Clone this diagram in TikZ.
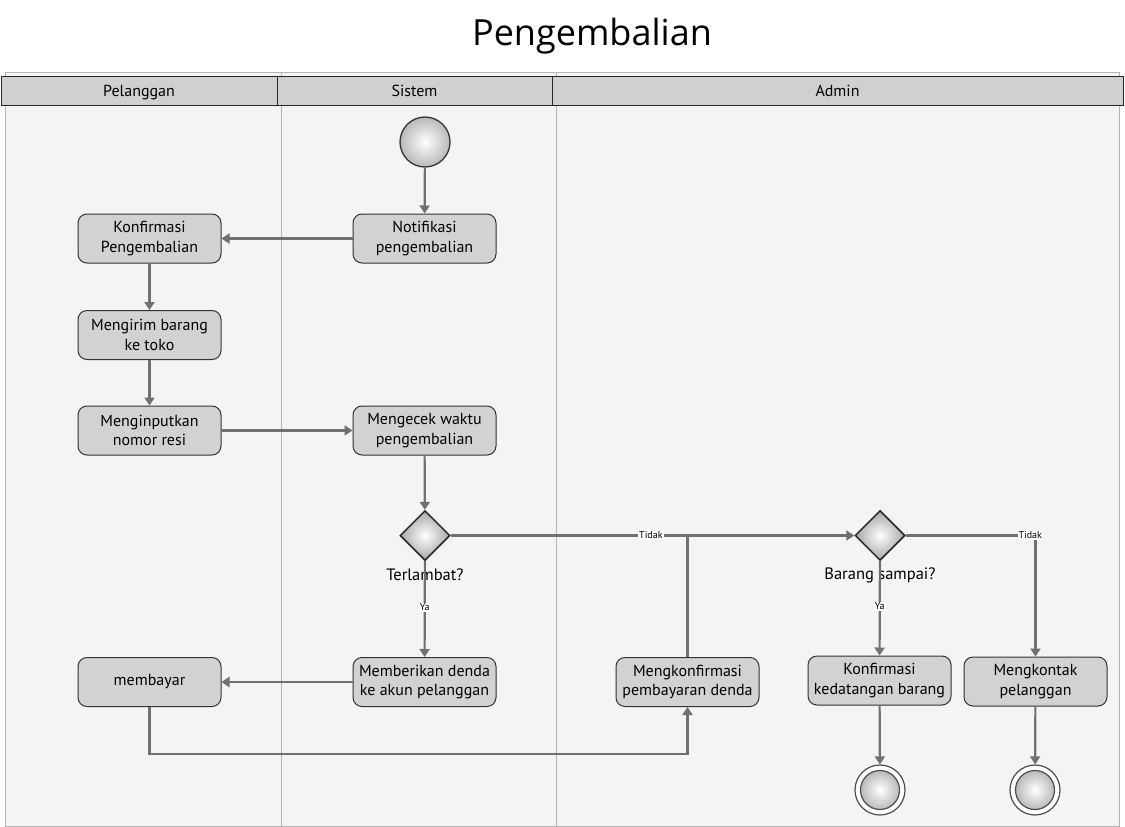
\documentclass[tikz,border=0pt]{standalone}
\usepackage{fontspec}
\setmainfont{PT Sans}
\newfontfamily\titlefont{Open Sans}
\usetikzlibrary{arrows.meta,shapes.geometric,calc}
\definecolor{lanebg}{HTML}{F4F4F4}
\definecolor{laneline}{HTML}{B4B4B4}
\definecolor{hdrfill}{HTML}{D0D0D0}
\definecolor{actfill}{HTML}{D2D2D2}
\definecolor{linegray}{HTML}{707070}
\tikzset{
  lane/.style={draw=laneline, fill=lanebg, line width=1pt},
  hdr/.style={draw=black!85, fill=hdrfill, line width=1pt, font=\fontsize{16}{18}\selectfont,
    minimum height=29pt, inner sep=0pt, text height=13pt, text depth=2pt},
  act/.style={draw=black!80, fill=actfill, line width=1pt, rounded corners=9pt,
    minimum width=143pt, minimum height=49pt, align=center, inner sep=2pt,
    font=\fontsize{16}{19.5}\selectfont},
  startnode/.style={circle, draw=black!80, line width=1.3pt, minimum size=50pt, inner sep=0pt,
    shading=radial, inner color=white, outer color=gray!55},
  endouter/.style={circle, draw=black!70, line width=1.2pt, fill=white, minimum size=50pt, inner sep=0pt},
  endinner/.style={circle, draw=black!70, line width=1.2pt, minimum size=39pt, inner sep=0pt,
    shading=radial, inner color=white, outer color=gray!55},
  decision/.style={diamond, draw=black!85, line width=1.5pt, minimum width=50pt, minimum height=50pt,
    inner sep=0pt, shading=radial, inner color=white, outer color=gray!70},
  conn/.style={draw=linegray, line width=2.2pt, -{Triangle[length=8pt,width=10pt]}},
  plain/.style={draw=linegray, line width=2.2pt},
  tlabel/.style={fill=white, inner sep=1pt, font=\fontsize{10}{11}\selectfont, text=black},
  qlabel/.style={font=\fontsize{16.5}{18}\selectfont},
}
\begin{document}
\begin{tikzpicture}[x=1pt,y=-1pt]
\useasboundingbox[fill=white] (0,0) rectangle (1125,827);
% title
\node (title) at (592,36) {\titlefont\fontsize{36}{42}\selectfont Pengembalian};
% lanes
\path[lane] (5,72) rectangle (281,826);
\path[lane] (281,72) rectangle (556,826);
\path[lane] (556,72) rectangle (1119,826);
\node[hdr, minimum width=276pt] (hP) at (139,90.5) {Pelanggan};
\node[hdr, minimum width=275pt] (hS) at (414.5,90.5) {Sistem};
\node[hdr, minimum width=571pt] (hA) at (837.5,90.5) {Admin};
% nodes
\node[startnode] (start) at (425,142) {};
\node[act] (konf) at (149.5,238.5) {Konfirmasi\\Pengembalian};
\node[act] (kirim) at (149.5,335) {Mengirim barang\\ke toko};
\node[act] (input) at (149.5,430.5) {Menginputkan\\nomor resi};
\node[act] (bayar) at (149.5,682) {membayar};
\node[act] (notif) at (424.5,238.5) {Notifikasi\\pengembalian};
\node[act] (cek) at (424.5,430.5) {Mengecek waktu\\pengembalian};
\node[act] (denda) at (424.5,682) {Memberikan denda\\ke akun pelanggan};
\node[act] (konfden) at (687.5,682) {Mengkonfirmasi\\pembayaran denda};
\node[act] (datang) at (879.5,680.5) {Konfirmasi\\kedatangan barang};
\node[act] (kontak) at (1035.5,681.5) {Mengkontak\\pelanggan};
\node[decision] (d1) at (425,535.5) {};
\node[decision] (d2) at (880,535.5) {};
\node[qlabel] (q1) at (425,575) {Terlambat?};
\node[qlabel] (q2) at (880,575) {Barang sampai?};
\node[endouter] (e1) at (880,790) {};
\node[endinner] (e1i) at (e1.center) {};
\node[endouter] (e2) at (1035,790) {};
\node[endinner] (e2i) at (e2.center) {};
% connectors
\draw[conn] (start) -- (notif);
\draw[conn] (notif) -- (konf);
\draw[conn] (konf) -- (kirim);
\draw[conn] (kirim) -- (input);
\draw[conn] (input) -- (cek);
\draw[conn] (cek) -- (d1);
\draw[conn] (d1) -- node[tlabel, pos=0.48] {Ya} (denda);
\draw[conn] (d1.east) -- node[tlabel, pos=0.496] {Tidak} (d2.west);
\draw[conn] (denda) -- (bayar);
\coordinate (c1) at (687.5,754);
\draw[conn] (bayar.south) |- (c1) -- (konfden.south);
\draw[plain] (konfden.north) -- (konfden.north |- d1.east);
\draw[conn] (d2) -- node[tlabel, pos=0.48] {Ya} (datang);
\draw[conn] (d2.east) -| node[tlabel, pos=0.48] {Tidak} (kontak.north);
\draw[conn] (datang) -- (e1);
\draw[conn] (kontak) -- (e2);
\end{tikzpicture}
\end{document}
